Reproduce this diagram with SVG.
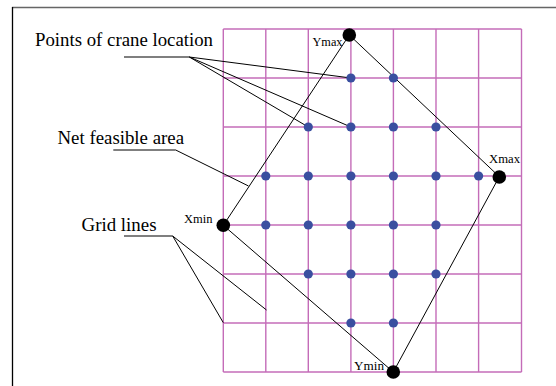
<svg xmlns="http://www.w3.org/2000/svg" width="556" height="386" viewBox="0 0 556 386">
<style>
.grid line{stroke:#c46cb8;stroke-width:1.4}
.dot{fill:#3a4fa0}
.vtx{fill:#000}
.lbl{font-family:"Liberation Serif",serif;font-size:19px;fill:#000}
.sm{font-family:"Liberation Serif",serif;font-size:13.5px;fill:#000}
.lead{stroke:#000;stroke-width:1;fill:none}
.ul{stroke:#555;stroke-width:1.6}
</style>
<rect width="556" height="386" fill="#fff"/>
<g id="frame">
<line x1="12" y1="7.5" x2="556" y2="7.5" stroke="#666" stroke-width="1.3"/>
<line x1="12.5" y1="7" x2="12.5" y2="386" stroke="#000" stroke-width="1.3"/>
</g>
<g id="grid" class="grid">
<line x1="223.3" y1="29" x2="223.3" y2="372"/>
<line x1="265.8" y1="29" x2="265.8" y2="372"/>
<line x1="308.3" y1="29" x2="308.3" y2="372"/>
<line x1="350.9" y1="29" x2="350.9" y2="372"/>
<line x1="393.4" y1="29" x2="393.4" y2="372"/>
<line x1="436" y1="29" x2="436" y2="372"/>
<line x1="478.6" y1="29" x2="478.6" y2="372"/>
<line x1="521.5" y1="29" x2="521.5" y2="372"/>
<line x1="223.3" y1="29" x2="521.5" y2="29"/>
<line x1="223.3" y1="78" x2="521.5" y2="78"/>
<line x1="223.3" y1="127" x2="521.5" y2="127"/>
<line x1="223.3" y1="176" x2="521.5" y2="176"/>
<line x1="223.3" y1="225" x2="521.5" y2="225"/>
<line x1="223.3" y1="274" x2="521.5" y2="274"/>
<line x1="223.3" y1="323" x2="521.5" y2="323"/>
<line x1="223.3" y1="372" x2="521.5" y2="372"/>
</g>
<g id="connectors">
<polygon class="lead" points="349.3,35 499.3,176.7 393.3,372 223.3,225.3"/>
<line class="ul" x1="124" y1="57" x2="189.3" y2="57"/>
<line class="lead" x1="189.3" y1="57" x2="350.9" y2="78"/>
<line class="lead" x1="189.3" y1="57" x2="350.9" y2="127"/>
<line class="lead" x1="189.3" y1="57" x2="308.3" y2="127"/>
<line class="ul" x1="113.3" y1="150" x2="175.7" y2="150"/>
<line class="lead" x1="175.7" y1="150" x2="248.5" y2="186"/>
<line class="ul" x1="124" y1="236" x2="172.7" y2="236"/>
<line class="lead" x1="172.7" y1="236" x2="266.5" y2="310"/>
<line class="lead" x1="172.7" y1="236" x2="223.3" y2="322.7"/>
</g>
<g id="points">
<circle class="dot" cx="350.9" cy="78" r="4.6"/><circle class="dot" cx="393.4" cy="78" r="4.6"/>
<circle class="dot" cx="308.3" cy="127" r="4.6"/><circle class="dot" cx="350.9" cy="127" r="4.6"/><circle class="dot" cx="393.4" cy="127" r="4.6"/><circle class="dot" cx="436" cy="127" r="4.6"/>
<circle class="dot" cx="265.8" cy="176" r="4.6"/><circle class="dot" cx="308.3" cy="176" r="4.6"/><circle class="dot" cx="350.9" cy="176" r="4.6"/><circle class="dot" cx="393.4" cy="176" r="4.6"/><circle class="dot" cx="436" cy="176" r="4.6"/><circle class="dot" cx="478.6" cy="176" r="4.6"/>
<circle class="dot" cx="265.8" cy="225" r="4.6"/><circle class="dot" cx="308.3" cy="225" r="4.6"/><circle class="dot" cx="350.9" cy="225" r="4.6"/><circle class="dot" cx="393.4" cy="225" r="4.6"/><circle class="dot" cx="436" cy="225" r="4.6"/>
<circle class="dot" cx="308.3" cy="274" r="4.6"/><circle class="dot" cx="350.9" cy="274" r="4.6"/><circle class="dot" cx="393.4" cy="274" r="4.6"/><circle class="dot" cx="436" cy="274" r="4.6"/>
<circle class="dot" cx="350.9" cy="323" r="4.6"/><circle class="dot" cx="393.4" cy="323" r="4.6"/>
</g>
<g id="ymax"><circle class="vtx" cx="349.3" cy="35" r="6.8"/><text class="sm" x="312.5" y="45.5" textLength="30" lengthAdjust="spacingAndGlyphs">Ymax</text></g>
<g id="xmax"><circle class="vtx" cx="499.3" cy="177" r="6.8"/><text class="sm" x="489" y="162.5" textLength="31" lengthAdjust="spacingAndGlyphs">Xmax</text></g>
<g id="xmin"><circle class="vtx" cx="223.3" cy="225.3" r="6.8"/><text class="sm" x="184" y="222.5" textLength="28.5" lengthAdjust="spacingAndGlyphs">Xmin</text></g>
<g id="ymin"><circle class="vtx" cx="393.3" cy="372" r="6.8"/><text class="sm" x="354" y="370" textLength="30" lengthAdjust="spacingAndGlyphs">Ymin</text></g>
<g id="label-points"><text class="lbl" x="35" y="45.5" textLength="178" lengthAdjust="spacingAndGlyphs">Points of crane location</text></g>
<g id="label-area"><text class="lbl" x="57.5" y="144" textLength="126.5" lengthAdjust="spacingAndGlyphs">Net feasible area</text></g>
<g id="label-grid"><text class="lbl" x="81.5" y="231" textLength="75" lengthAdjust="spacingAndGlyphs">Grid lines</text></g>
</svg>
